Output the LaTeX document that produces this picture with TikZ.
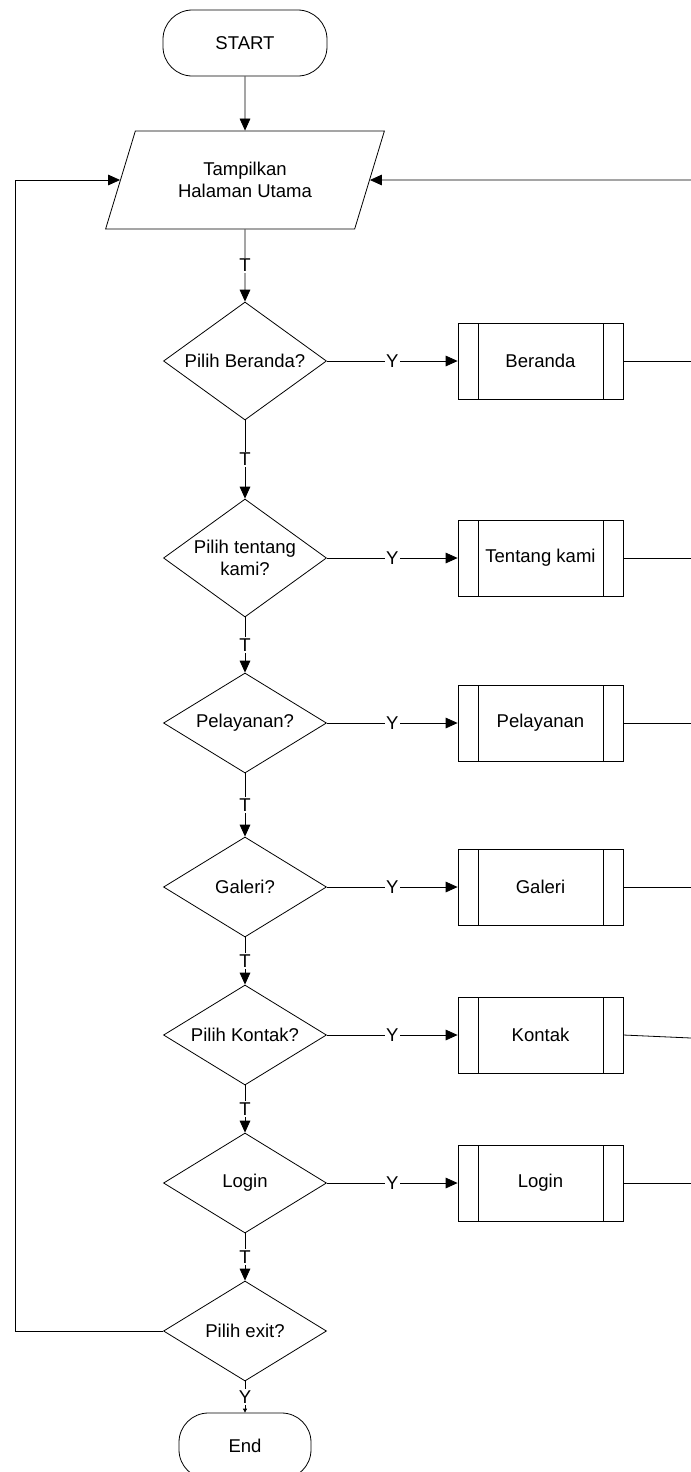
\documentclass[tikz,border=0pt]{standalone}
\usepackage{fontspec}
\setmainfont{Liberation Sans}
\usetikzlibrary{shapes.geometric,arrows.meta}

\begin{document}
\begin{tikzpicture}[x=0.75pt,y=-0.75pt,line width=0.6pt,
        font=\fontsize{13.9pt}{16.5pt}\selectfont,
        terminal/.style={draw, rectangle, rounded corners=22pt, minimum height=49.5pt},
        ausgabe/.style={draw, trapezium, trapezium left angle=63, trapezium right angle=117,
            trapezium stretches=true, minimum width=209.25pt, minimum height=73.5pt,
            inner sep=0pt, align=center},
        frage/.style={draw, diamond, aspect=1.4, minimum width=122.25pt, minimum height=75pt,
            inner sep=0pt, align=center},
        unterprog/.style={draw, rectangle, minimum width=123.75pt, minimum height=57pt,
            path picture={
                \draw ([xshift=15pt]path picture bounding box.north west) -- ([xshift=15pt]path picture bounding box.south west);
                \draw ([xshift=-15pt]path picture bounding box.north east) -- ([xshift=-15pt]path picture bounding box.south east);}},
        pfeil/.style={-{Triangle[length=9pt,width=8pt]}},
        marke/.style={midway, fill=white, inner sep=1pt}]
    \useasboundingbox (0,0) rectangle (691,1472); % Bildrand

    \coordinate (links) at (15,0);
    \coordinate (rechts) at (691,0);

    % Start und Ausgabe
    \node[terminal, minimum width=123pt] (start) at (245,43) {START};
    \node[ausgabe] (tampil) at (245,180) {Tampilkan\\Halaman Utama};

    % Entscheidungen
    \node[frage, minimum height=88.5pt] (d1) at (245,361) {Pilih Beranda?};
    \node[frage, minimum height=88.5pt] (d2) at (245,558) {Pilih tentang\\kami?};
    \node[frage] (d3) at (245,723) {Pelayanan?};
    \node[frage] (d4) at (245,887) {Galeri?};
    \node[frage] (d5) at (245,1035) {Pilih Kontak?};
    \node[frage] (d6) at (245,1183) {Login};
    \node[frage] (d7) at (245,1331) {Pilih exit?};

    % Unterprogramme
    \node[unterprog] (p1) at (540.5,361) {Beranda};
    \node[unterprog] (p2) at (540.5,558) {Tentang kami};
    \node[unterprog] (p3) at (540.5,723) {Pelayanan};
    \node[unterprog] (p4) at (540.5,887) {Galeri};
    \node[unterprog] (p5) at (540.5,1035) {Kontak};
    \node[unterprog] (p6) at (540.5,1183) {Login};

    % Ende
    \node[terminal, minimum width=99pt] (ende) at (245,1446) {End};

    % Hauptlinie
    \draw[pfeil] (start) -- (tampil);
    \draw[pfeil] (tampil) -- node[marke] {T} (d1);
    \draw[pfeil] (d1) -- node[marke] {T} (d2);
    \draw[pfeil] (d2) -- node[marke] {T} (d3);
    \draw[pfeil] (d3) -- node[marke] {T} (d4);
    \draw[pfeil] (d4) -- node[marke] {T} (d5);
    \draw[pfeil] (d5) -- node[marke] {T} (d6);
    \draw[pfeil] (d6) -- node[marke] {T} (d7);
    \draw[-{Triangle[length=3pt,width=3pt]}] (d7) -- node[marke] {Y} (ende);

    % Ja-Zweige
    \draw[pfeil] (d1) -- node[marke] {Y} (p1);
    \draw[pfeil] (d2) -- node[marke] {Y} (p2);
    \draw[pfeil] (d3) -- node[marke] {Y} (p3);
    \draw[pfeil] (d4) -- node[marke] {Y} (p4);
    \draw[pfeil] (d5) -- node[marke] {Y} (p5);
    \draw[pfeil] (d6) -- node[marke] {Y} (p6);

    % Rueckwege
    \draw (p1.east) -- (p1.east -| rechts);
    \draw (p2.east) -- (p2.east -| rechts);
    \draw (p3.east) -- (p3.east -| rechts);
    \draw (p4.east) -- (p4.east -| rechts);
    \draw (p5.east) -- ([yshift=-2.25pt]p5.east -| rechts);
    \draw (p6.east) -- (p6.east -| rechts);
    \draw[pfeil] (tampil.center -| rechts) -- (tampil);
    \draw[pfeil] (d7.west) -- (d7.west -| links) |- (tampil);
\end{tikzpicture}
\end{document}
